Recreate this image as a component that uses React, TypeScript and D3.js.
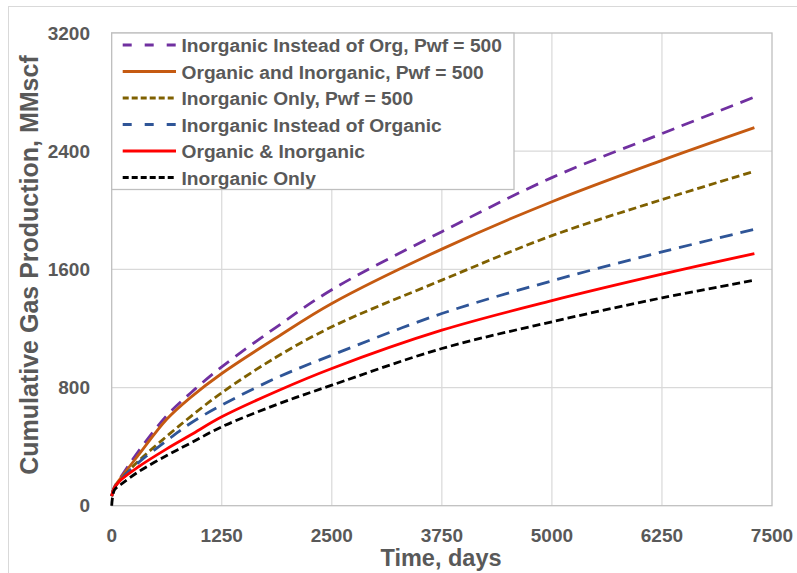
import React from "react";
import * as d3 from "d3";

// Time axis (days) at which each series is sampled
const days = [0, 30, 100, 300, 625, 900, 1250, 1875, 2500, 3750, 5000, 6250, 7300];

// Cumulative gas production, MMscf
const inorgInsteadOrgPwf = [65, 125, 190, 365, 610, 765, 940, 1211, 1462, 1855, 2221, 2519, 2766];
const orgAndInorgPwf = [65, 125, 185, 340, 585, 735, 895, 1139, 1369, 1737, 2058, 2338, 2559];
const inorgOnlyPwf = [65, 120, 175, 300, 470, 605, 765, 1008, 1211, 1527, 1828, 2072, 2264];
const inorgInsteadOrg = [65, 120, 175, 290, 440, 560, 681, 866, 1019, 1301, 1522, 1718, 1871];
const orgAndInorg = [65, 120, 172, 262, 385, 480, 602, 775, 929, 1188, 1388, 1567, 1707];
const inorgOnly = [0, 105, 142, 228, 340, 425, 534, 685, 816, 1064, 1245, 1407, 1526];

const seriesNames = [
  "Inorganic Instead of Org, Pwf = 500",
  "Organic and Inorganic, Pwf = 500",
  "Inorganic Only, Pwf = 500",
  "Inorganic Instead of Organic",
  "Organic & Inorganic",
  "Inorganic Only",
];

const xTicks = [0, 1250, 2500, 3750, 5000, 6250, 7500];
const yTicks = [0, 800, 1600, 2400, 3200];

const xTitle = "Time, days";
const yTitle = "Cumulative Gas Production, MMscf";

type Style = { color: string; dash: string | null; legendDash: string | null };
const styles: Style[] = [
  { color: "#7030A0", dash: "13,8", legendDash: "9,13" },
  { color: "#C55A11", dash: null, legendDash: null },
  { color: "#7F6000", dash: "8,4", legendDash: "6,3" },
  { color: "#2F5597", dash: "13,8", legendDash: "9,13" },
  { color: "#FF0000", dash: null, legendDash: null },
  { color: "#000000", dash: "8,4", legendDash: "6,3" },
];

const W = 797;
const H = 573;
const plot = { left: 111.7, right: 772, top: 33, bottom: 505.7 };
const textColor = "#595959";
const font = "'Liberation Sans', Arial, sans-serif";

export default function App() {
  const x = d3.scaleLinear().domain([0, 7500]).range([plot.left, plot.right]);
  const y = d3.scaleLinear().domain([0, 3200]).range([plot.bottom, plot.top]);

  const allSeries = [
    inorgInsteadOrgPwf,
    orgAndInorgPwf,
    inorgOnlyPwf,
    inorgInsteadOrg,
    orgAndInorg,
    inorgOnly,
  ];

  const line = d3
    .line<number>()
    .x((_, i) => x(days[i]))
    .y((v) => y(v))
    .curve(d3.curveCatmullRom.alpha(0.5));

  const legend = { x: plot.left, y: plot.top, w: 402.3, h: 156.5, row0: 45, step: 26.5 };

  return (
    <svg
      width={W}
      height={H}
      style={{ position: "absolute", left: 0, top: 0, background: "#fff" }}
      fontFamily={font}
    >
      <rect x={0} y={0} width={W} height={H} fill="#fff" />
      <rect x={8.5} y={6.5} width={1000} height={1000} fill="none" stroke="#D9D9D9" />

      {/* gridlines */}
      {xTicks.slice(1, -1).map((t) => (
        <line key={"gx" + t} x1={x(t)} x2={x(t)} y1={plot.top} y2={plot.bottom} stroke="#D9D9D9" strokeWidth={1.2} />
      ))}
      {yTicks.slice(1, -1).map((t) => (
        <line key={"gy" + t} x1={plot.left} x2={plot.right} y1={y(t)} y2={y(t)} stroke="#D9D9D9" strokeWidth={1.2} />
      ))}
      <rect
        x={plot.left}
        y={plot.top}
        width={plot.right - plot.left}
        height={plot.bottom - plot.top}
        fill="none"
        stroke="#BFBFBF"
        strokeWidth={1.3}
      />

      {/* series */}
      {allSeries.map((s, i) => (
        <path
          key={"s" + i}
          d={line(s) || ""}
          fill="none"
          stroke={styles[i].color}
          strokeWidth={2.8}
          strokeDasharray={styles[i].dash || undefined}
        />
      ))}

      {/* tick labels */}
      {yTicks.map((t) => (
        <text
          key={"ty" + t}
          x={90}
          y={y(t)}
          dy="0.35em"
          textAnchor="end"
          fontSize={19}
          fontWeight="bold"
          fill={textColor}
        >
          {t}
        </text>
      ))}
      {xTicks.map((t) => (
        <text
          key={"tx" + t}
          x={x(t)}
          y={541.5}
          textAnchor="middle"
          fontSize={19}
          fontWeight="bold"
          fill={textColor}
        >
          {t}
        </text>
      ))}

      {/* axis titles */}
      <text x={441} y={565.5} textAnchor="middle" fontSize={23.5} fontWeight="bold" fill={textColor}>
        {xTitle}
      </text>
      <text
        transform={`translate(38,265) rotate(-90)`}
        textAnchor="middle"
        fontSize={25}
        fontWeight="bold"
        fill={textColor}
      >
        {yTitle}
      </text>

      {/* legend */}
      <rect
        x={legend.x}
        y={legend.y}
        width={legend.w}
        height={legend.h}
        fill="#fff"
        stroke="#BFBFBF"
        strokeWidth={1.3}
      />
      {seriesNames.map((name, i) => {
        const ly = legend.row0 + i * legend.step;
        return (
          <g key={"l" + i}>
            <line
              x1={122.7}
              x2={176}
              y1={ly}
              y2={ly}
              stroke={styles[i].color}
              strokeWidth={2.8}
              strokeDasharray={styles[i].legendDash || undefined}
            />
            <text x={181.5} y={ly + 7.3} fontSize={19.2} fontWeight="bold" fill={textColor}>
              {name}
            </text>
          </g>
        );
      })}
    </svg>
  );
}
